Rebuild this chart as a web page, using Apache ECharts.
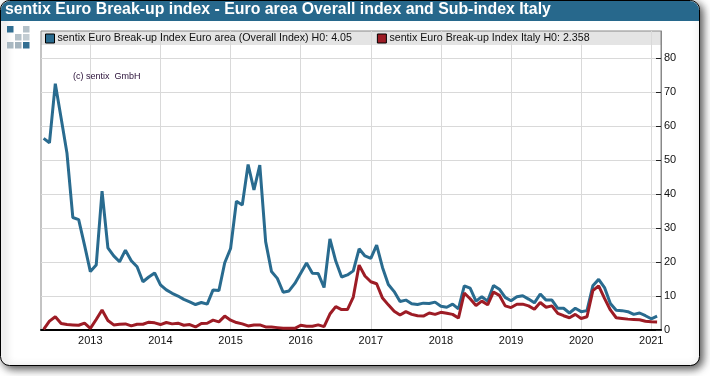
<!DOCTYPE html>
<html>
<head>
<meta charset="utf-8">
<title>sentix Euro Break-up index</title>
<script src="https://cdn.jsdelivr.net/npm/echarts@6/dist/echarts.min.js"></script>
<style>
  html, body { margin: 0; padding: 0; background: #fff; }
  #chart { width: 710px; height: 376px; }
</style>
</head>
<body>
<div id="chart"></div>
<script>
// monthly readings, May 2012 to Feb 2021
const euroArea = [
  56.4, 55.1, 72.5, 62.3, 52, 33.1, 32.5, 25,
  17.2, 19.1, 40.9, 24.2, 21.8, 20.1, 23.5, 20.4, 18.6, 14.2, 15.6, 16.8,
  13.3, 11.8, 10.8, 10, 9, 8.3, 7.5, 8.1, 7.6, 11.8, 11.6, 19.8,
  24, 37.9, 36.8, 48.7, 41.2, 48.5, 26, 17.2, 15.2, 11.1, 11.5, 13.7,
  16.7, 19.7, 16.7, 16.6, 12.5, 26.8, 20.3, 15.6, 16.2, 17.4, 23.9, 21.8,
  21.1, 25, 18.4, 13.4, 11.3, 8.4, 8.8, 7.7, 7.5, 7.9, 7.8, 8.2,
  7, 6.7, 7.6, 6.2, 13, 12.3, 8.5, 9.8, 8.5, 13.1, 12, 9.6,
  8.6, 9.8, 10.1, 9.1, 8, 10.6, 8.8, 8.8, 6.4, 6.4, 5, 6.4,
  5.4, 5.7, 13, 14.9, 12.5, 7.8, 5.8, 5.7, 5.4, 4.6, 5, 4.2,
  3.3, 4.05
];
const italy = [
  0.2, 2.6, 3.9, 1.9, 1.6, 1.5, 1.4, 2,
  0.5, 3.1, 5.9, 2.8, 1.5, 1.7, 1.8, 1.2, 1.7, 1.7, 2.3, 2.1,
  1.6, 2.2, 1.8, 2, 1.4, 1.6, 0.9, 1.9, 2, 2.9, 2.4, 4.1,
  2.9, 2.2, 1.8, 1.2, 1.5, 1.5, 0.9, 0.9, 0.7, 0.5, 0.5, 0.5,
  1.4, 1.1, 1.1, 1.5, 1, 4.7, 6.9, 6, 6, 9.7, 19.1, 15.9,
  14.2, 13.6, 9.4, 7.4, 5.5, 4.4, 5.4, 4.6, 4.2, 4.1, 5, 4.6,
  5.2, 4.9, 4.6, 3.5, 10.9, 9.2, 7.2, 8.5, 7.4, 11.2, 10.2, 7.1,
  6.6, 7.6, 7.6, 7.1, 6.1, 8.1, 6.7, 7.1, 4.9, 4.2, 3.6, 4.6,
  3.4, 3.9, 11.6, 13, 9.3, 5.9, 3.6, 3.4, 3.2, 3.1, 3, 2.6,
  2.4, 2.358
];
const yearTicks = [2013, 2014, 2015, 2016, 2017, 2018, 2019, 2020, 2021];
const valueTicks = [0, 10, 20, 30, 40, 50, 60, 70, 80];

const euroName = 'sentix Euro Break-up Index Euro area (Overall Index) H0: 4.05';
const italyName = 'sentix Euro Break-up Index Italy H0: 2.358';

// x position as fractional year, first reading is May 2012
const months = euroArea.map((_, i) => 2012 + (4 + i) / 12);

// logo squares: [x, y, colour]
const logo = [
  [7, 26, '#2f6d91'], [23, 26, '#b4c1c9'],
  [15, 34, '#b4c1c9'], [23, 34, '#c3cdd3'],
  [7, 42, '#a9b8c1'], [15, 42, '#a3b3bd'], [23, 42, '#336f92']
];

const chart = echarts.init(document.getElementById('chart'), null, { renderer: 'canvas' });
chart.setOption({
  animation: false,
  textStyle: { fontFamily: '"Liberation Sans", Arial, sans-serif' },
  title: {
    text: 'sentix Euro Break-up index - Euro area Overall index and Sub-index Italy',
    left: 5, top: 2, padding: 0,
    textStyle: { color: '#fff', fontSize: 15.85, fontWeight: 'bold', fontFamily: '"Liberation Sans", Arial, sans-serif' }
  },
  legend: {
    left: 45, top: 33, padding: 0, itemGap: 25,
    itemWidth: 9, itemHeight: 9,
    icon: 'rect',
    itemStyle: { borderColor: '#000', borderWidth: 1 },
    textStyle: { color: '#111', fontSize: 10.67, padding: [0, 0, 0, -2] }
  },
  grid: {
    left: 41, right: 49, top: 31, bottom: 46,
    show: true, borderColor: '#888', borderWidth: 1
  },
  xAxis: {
    type: 'value',
    min: 2012.296,
    max: 2021.139,
    axisLine: { onZero: false, lineStyle: { color: '#000', width: 2 } },
    axisTick: { show: false, customValues: yearTicks },
    axisLabel: {
      customValues: yearTicks,
      formatter: v => String(v),
      color: '#111', fontSize: 11, margin: 5, hideOverlap: false
    },
    splitLine: { show: true, lineStyle: { color: '#d9d9d9', width: 1 } }
  },
  yAxis: {
    type: 'value',
    position: 'right',
    min: 0, max: 88, interval: 10,
    axisLine: { show: true, lineStyle: { color: '#888', width: 1 } },
    axisTick: { show: true, inside: true, length: 5, customValues: valueTicks, lineStyle: { color: '#222' } },
    axisLabel: { customValues: valueTicks, color: '#111', fontSize: 11, margin: 3 },
    splitLine: { show: true, lineStyle: { color: '#d9d9d9', width: 1 } }
  },
  series: [
    {
      name: euroName, type: 'line', showSymbol: false, symbol: 'none',
      color: '#296b8f', lineStyle: { color: '#296b8f', width: 3 }, z: 3,
      data: months.map((m, i) => [m, euroArea[i]])
    },
    {
      name: italyName, type: 'line', showSymbol: false, symbol: 'none',
      color: '#9d1c25', lineStyle: { color: '#9d1c25', width: 3 }, z: 4,
      data: months.map((m, i) => [m, italy[i]])
    }
  ],
  graphic: [
    {
      type: 'rect', z: -10, silent: true,
      shape: { x: 0.5, y: 0.5, width: 699, height: 365, r: 9 },
      style: { fill: '#fff', stroke: '#000', lineWidth: 1, shadowBlur: 8, shadowColor: 'rgba(0,0,0,0.7)', shadowOffsetX: 3, shadowOffsetY: 3 }
    },
    {
      type: 'rect', z: -9, silent: true,
      shape: { x: 1, y: 1, width: 698, height: 20, r: [9, 9, 0, 0] },
      style: { fill: '#27688c' }
    },
    {
      type: 'rect', z: -8, silent: true,
      shape: { x: 41, y: 31, width: 620, height: 14 },
      style: { fill: '#e4e4e4' }
    },
    {
      type: 'text', z: 5, silent: true, x: 73, y: 72,
      style: { text: '(c) sentix  GmbH', fill: '#2a1038', fontSize: 9, fontFamily: '"Liberation Sans", Arial, sans-serif' }
    }
  ].concat(logo.map(s => ({
    type: 'rect', z: -8, silent: true,
    shape: { x: s[0], y: s[1], width: 6.5, height: 6.5 },
    style: { fill: s[2] }
  })))
});
</script>
</body>
</html>
